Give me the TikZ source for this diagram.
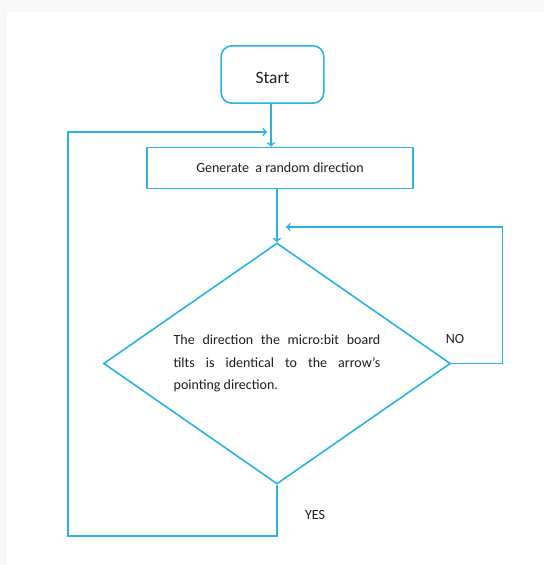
\documentclass[tikz,border=0pt]{standalone}
\usepackage{fontspec}
\setmainfont{Carlito}
\usetikzlibrary{shapes.geometric}
\definecolor{flowblue}{RGB}{40,178,232}
\definecolor{pagegray}{RGB}{248,248,248}
\definecolor{inkgray}{RGB}{30,30,30}
\tikzset{
    flowline/.style={draw=flowblue,line width=1.2pt},
    startbox/.style={flowline,rounded corners=8pt,minimum width=77pt,minimum height=43pt,text height=14pt,font=\fontsize{13}{15}\selectfont,text=inkgray},
    procbox/.style={flowline,minimum width=199.5pt,minimum height=30.75pt,font=\fontsize{10.5}{12}\selectfont,text=inkgray},
    decision/.style={flowline,diamond,aspect=1.44,inner sep=0pt,minimum width=260.25pt,minimum height=180.75pt,font=\fontsize{10.5}{17}\selectfont,text=inkgray},
    tag/.style={font=\fontsize{10.5}{12}\selectfont,text=inkgray}
}
\begin{document}
\begin{tikzpicture}[x=0.75pt,y=-0.75pt]
    % page
    \fill[pagegray] (0,0) rectangle (544,565);
    \fill[white] (7,12) rectangle (544,565);
    \useasboundingbox (0,0) rectangle (544,565);
    % boxes
    \node[startbox] (start) at (272.5,74.5) {Start};
    \node[procbox] (gen) at (280,168) {Generate\ \ a random direction};
    \node[decision] (check) at (277,363.5) {\parbox{155pt}{\hyphenpenalty=10000 The direction the micro:bit board tilts is identical to the arrow's pointing direction.}};
    % labels
    \node[tag] (no) at (455,339) {NO};
    \node[tag] (yes) at (315,515) {YES};
    % loop ends
    \coordinate (noin) at (286,227);
    \coordinate (yesin) at (267,132);
    % connectors
    \draw[flowline,->] (start.south -| 271,0) -- (gen.north -| 271,0);
    \draw[flowline,->] (gen.south -| check.north) -- (check.north);
    \draw[flowline,->] (check.east) -- ++(51,0) |- (noin);
    \draw[flowline,->] (check.south) -- ++(0,51) -- ++(-209,0) |- (yesin);
\end{tikzpicture}
\end{document}
